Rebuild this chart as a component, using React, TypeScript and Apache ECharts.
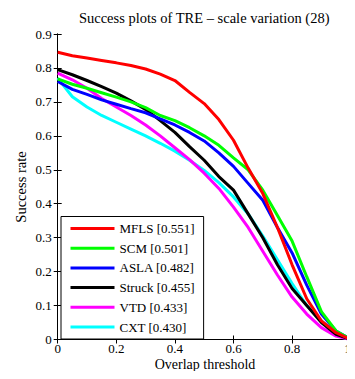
import React, { useEffect, useRef } from "react";
import * as echarts from "echarts";

const thresholds = [0, 0.05, 0.1, 0.15, 0.2, 0.25, 0.3, 0.35, 0.4, 0.45, 0.5, 0.55, 0.6, 0.65, 0.7, 0.75, 0.8, 0.85, 0.9, 0.95, 1];

const trackerNames = ["MFLS [0.551]", "SCM [0.501]", "ASLA [0.482]", "Struck [0.455]", "VTD [0.433]", "CXT [0.430]"];
const trackerColors = ["#ff0000", "#00ff00", "#0000ff", "#000000", "#ff00ff", "#00ffff"];

const mfls = [0.846, 0.836, 0.829, 0.822, 0.815, 0.807, 0.797, 0.782, 0.763, 0.728, 0.695, 0.648, 0.587, 0.505, 0.43, 0.33, 0.22, 0.12, 0.055, 0.02, 0];
const scm = [0.768, 0.752, 0.74, 0.727, 0.714, 0.7, 0.683, 0.66, 0.645, 0.624, 0.6, 0.572, 0.535, 0.5, 0.44, 0.365, 0.29, 0.185, 0.082, 0.025, 0];
const asla = [0.76, 0.737, 0.722, 0.706, 0.693, 0.68, 0.668, 0.65, 0.632, 0.61, 0.585, 0.55, 0.51, 0.46, 0.41, 0.33, 0.255, 0.16, 0.075, 0.025, 0];
const struck = [0.795, 0.78, 0.763, 0.745, 0.726, 0.703, 0.678, 0.645, 0.61, 0.568, 0.528, 0.48, 0.44, 0.37, 0.3, 0.22, 0.15, 0.1, 0.05, 0.015, 0];
const vtd = [0.785, 0.765, 0.74, 0.71, 0.685, 0.66, 0.632, 0.6, 0.565, 0.53, 0.49, 0.445, 0.39, 0.33, 0.26, 0.19, 0.125, 0.075, 0.035, 0.01, 0];
const cxt = [0.77, 0.715, 0.685, 0.66, 0.64, 0.62, 0.6, 0.578, 0.555, 0.528, 0.498, 0.462, 0.42, 0.37, 0.305, 0.235, 0.165, 0.1, 0.055, 0.02, 0];

const allSeries = [mfls, scm, asla, struck, vtd, cxt];

const titleText = "Success plots of TRE \u2013 scale variation (28)";
const xName = "Overlap threshold";
const yName = "Success rate";

const FONT = "Liberation Serif";

export default function App() {
  const ref = useRef<HTMLDivElement>(null);
  useEffect(() => {
    if (!ref.current) return;
    const chart = echarts.init(ref.current, undefined, { renderer: "svg" });
    const tick = { show: true, inside: true, length: 4, lineStyle: { color: "#000", width: 1 } };
    const axisLine = { show: true, lineStyle: { color: "#000", width: 1 } };
    const fmt = (v: number) => String(+v.toFixed(1));
    const option: any = {
      animation: false,
      backgroundColor: "#fff",
      textStyle: { fontFamily: FONT },
      grid: { left: 57.7, right: 4.3, top: 34, bottom: 39.5, containLabel: false },
      xAxis: [
        {
          type: "value", min: 0, max: 1, interval: 0.2, position: "bottom",
          axisLine, axisTick: tick, splitLine: { show: false },
          axisLabel: {
            margin: 3, color: "#000", fontSize: 13, lineHeight: 12, fontFamily: FONT, formatter: fmt,
            showMaxLabel: true, showMinLabel: true, hideOverlap: false, alignMaxLabel: "right",
          },
        },
        {
          type: "value", min: 0, max: 1, interval: 0.2, position: "top",
          axisLine, axisTick: tick, splitLine: { show: false }, axisLabel: { show: false },
        },
      ],
      yAxis: [
        {
          type: "value", min: 0, max: 0.9, interval: 0.1, position: "left",
          axisLine, axisTick: tick, splitLine: { show: false },
          axisLabel: { margin: 6, color: "#000", fontSize: 13, fontFamily: FONT, formatter: fmt, showMaxLabel: true, showMinLabel: true },
        },
        {
          type: "value", min: 0, max: 0.9, interval: 0.1, position: "right",
          axisLine, axisTick: tick, splitLine: { show: false }, axisLabel: { show: false },
        },
      ],
      legend: {
        orient: "vertical",
        left: 61,
        top: 216.5,
        padding: [5, 9, 5, 9.5],
        itemGap: 5.7,
        itemWidth: 44,
        itemHeight: 3,
        icon: "rect",
        backgroundColor: "#fff",
        borderColor: "#000",
        borderWidth: 1,
        borderRadius: 0,
        data: trackerNames,
        textStyle: { color: "#000", fontSize: 13, fontFamily: FONT, lineHeight: 14 },
      },
      graphic: [
        {
          type: "text", x: 204.2, y: 17.5,
          style: { text: titleText, fill: "#000", font: `14.5px ${FONT}`, textAlign: "center", textVerticalAlign: "middle" },
        },
        {
          type: "text", x: 205, y: 364,
          style: { text: xName, fill: "#000", font: `14px ${FONT}`, textAlign: "center", textVerticalAlign: "middle" },
        },
        {
          type: "text", x: 21, y: 187, rotation: Math.PI / 2,
          style: { text: yName, fill: "#000", font: `14.5px ${FONT}`, textAlign: "center", textVerticalAlign: "middle" },
        },
      ],
      series: allSeries.map((vals, i) => ({
        name: trackerNames[i],
        type: "line",
        xAxisIndex: 0,
        yAxisIndex: 0,
        showSymbol: false,
        symbol: "none",
        smooth: false,
        lineStyle: { color: trackerColors[i], width: 3 },
        itemStyle: { color: trackerColors[i] },
        data: thresholds.map((t, k) => [t, vals[k]]),
        z: 2 + (allSeries.length - i),
      })),
    };
    chart.setOption(option);
    return () => chart.dispose();
  }, []);
  return <div ref={ref} style={{ width: 355, height: 379, margin: -8 }} />;
}
